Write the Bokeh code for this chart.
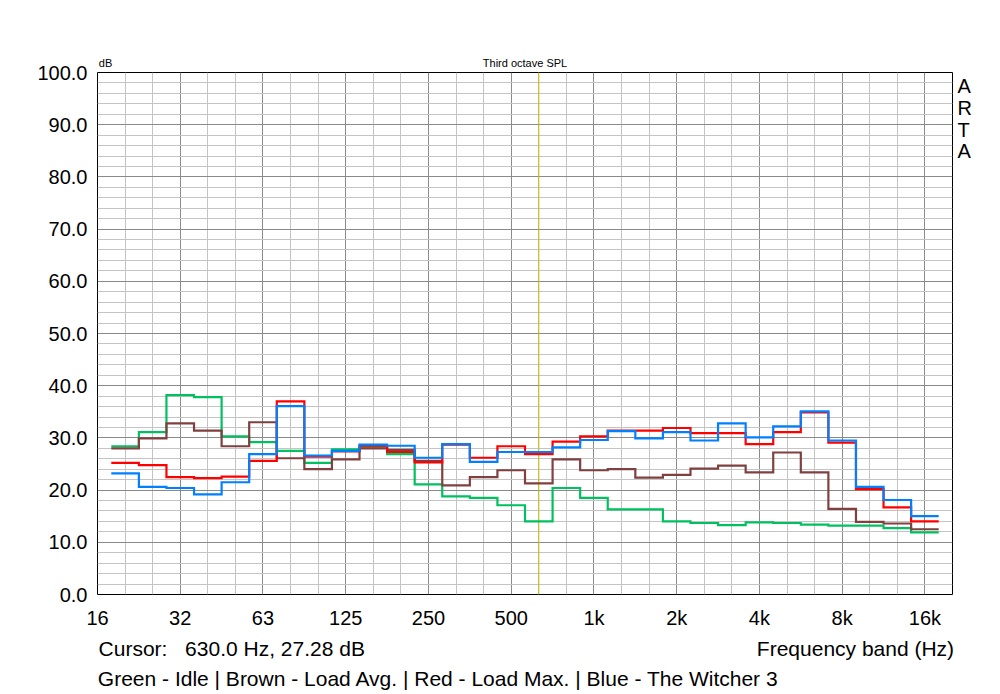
import numpy as np
from bokeh.plotting import figure
from bokeh.models import (FixedTicker, NumeralTickFormatter, Span, Range1d,
                          LinearAxis, LinearScale)
from bokeh.embed import file_html
from bokeh.resources import INLINE

# Third-octave band centres (Hz)
bands = [20, 25, 31.5, 40, 50, 63, 80, 100, 125, 160, 200, 250, 315, 400, 500,
         630, 800, 1000, 1250, 1600, 2000, 2500, 3150, 4000, 5000, 6300, 8000,
         10000, 12500, 16000]

# SPL values (dB) per band
idle = [28.4, 31.1, 38.2, 37.8, 30.3, 29.2, 27.5, 25.2, 27.8, 28.3,
        26.9, 21.1, 18.8, 18.5, 17.1, 14.0, 20.4, 18.5, 16.3, 16.3,
        14.0, 13.7, 13.3, 13.8, 13.7, 13.4, 13.2, 13.2, 12.7, 11.9]
load_avg = [28.0, 29.9, 32.8, 31.4, 28.4, 33.0, 26.1, 24.0, 25.9, 28.0,
            27.7, 25.6, 20.9, 22.5, 23.8, 21.3, 25.9, 23.8, 24.0, 22.4,
            22.9, 24.1, 24.7, 23.4, 27.2, 23.4, 16.4, 13.9, 13.6, 12.5]
load_max = [25.2, 24.8, 22.5, 22.3, 22.6, 25.6, 37.0, 26.4, 27.4, 28.5,
            27.3, 25.3, 28.7, 26.2, 28.4, 26.9, 29.3, 30.3, 31.4, 31.4,
            31.9, 30.9, 30.9, 28.8, 31.1, 34.9, 29.1, 20.2, 16.7, 14.0]
witcher = [23.2, 20.6, 20.4, 19.2, 21.5, 26.9, 36.1, 26.6, 27.5, 28.7,
           28.5, 26.2, 28.8, 25.4, 27.3, 27.3, 28.2, 29.6, 31.3, 29.9,
           31.1, 29.5, 32.8, 30.1, 32.2, 35.1, 29.5, 20.6, 18.1, 15.0]

# tick labels
x_tick_labels = ["16", "32", "63", "125", "250", "500", "1k", "2k", "4k", "8k", "16k"]
cursor_freq = 630.0
cursor_db = 27.28

FONT = "Liberation Sans"

# layout (pixels)
W, H = 1000, 694
LEFT, RIGHT, TOP, BOTTOM = 97, 48, 72, 100
FW, FH = W - LEFT - RIGHT, H - TOP - BOTTOM

# exact base-2 third-octave positions
k = np.round(3 * np.log2(np.array(bands, dtype=float) / 1000.0))
centers = 1000.0 * 2 ** (k / 3)
lo_edges = centers * 2 ** (-1 / 6)
xs = np.append(lo_edges, centers[-1] * 2 ** (1 / 6))

major_k = np.arange(-18, 13, 3)
major_x = [float(1000.0 * 2 ** (kk / 3)) for kk in major_k]
minor_x = [float(1000.0 * 2 ** (kk / 3)) for kk in range(-18, 14) if kk % 3 != 0]

p = figure(width=W, height=H, x_axis_type="log",
           x_range=Range1d(1000.0 * 2 ** -6, 1000.0 * 2 ** (13 / 3)),
           y_range=Range1d(0, 100),
           output_backend="svg", toolbar_location=None,
           min_border_left=LEFT, min_border_right=RIGHT,
           min_border_top=TOP, min_border_bottom=BOTTOM)

p.background_fill_color = "white"
p.border_fill_color = "white"
p.outline_line_color = "black"
p.outline_line_width = 1
p.outline_line_alpha = 1.0

# pixel-based extra ranges for the surrounding texts
p.extra_x_ranges = {"px": Range1d(0, FW)}
p.extra_x_scales = {"px": LinearScale()}
p.extra_y_ranges = {"px": Range1d(0, FH)}
p.extra_y_scales = {"px": LinearScale()}


def style_axis(ax, size, standoff):
    ax.axis_line_color = None
    ax.major_tick_line_color = None
    ax.minor_tick_line_color = None
    ax.major_tick_out = 0
    ax.major_tick_in = 0
    ax.minor_tick_out = 0
    ax.minor_tick_in = 0
    ax.major_label_text_font = FONT
    ax.major_label_text_font_size = size
    ax.major_label_text_color = "black"
    ax.major_label_standoff = standoff


# main axes
p.xaxis.ticker = FixedTicker(ticks=major_x, minor_ticks=minor_x)
p.xaxis.major_label_overrides = {t: lab for t, lab in zip(major_x, x_tick_labels)}
p.yaxis.ticker = FixedTicker(ticks=list(range(0, 101, 10)),
                             minor_ticks=[v for v in range(0, 101, 2) if v % 10 != 0])
p.yaxis.formatter = NumeralTickFormatter(format="0.0")
style_axis(p.xaxis[0], "20px", 12)
style_axis(p.yaxis[0], "20px", 10)

for g in (p.xgrid[0], p.ygrid[0]):
    g.grid_line_color = "#8a8a8a"
    g.grid_line_width = 1
    g.minor_grid_line_color = "#c4c4c4"
    g.minor_grid_line_width = 1


def text_axis(side, items, size, standoff):
    if side in ("above", "below"):
        ax = LinearAxis(x_range_name="px")
    else:
        ax = LinearAxis(y_range_name="px")
    ax.ticker = FixedTicker(ticks=[pos for pos, _ in items], minor_ticks=[])
    ax.major_label_overrides = {pos: txt for pos, txt in items}
    style_axis(ax, size, standoff)
    p.add_layout(ax, side)


# texts around the frame (positions in pixels from frame left / bottom)
text_axis("above", [(8, "dB"), (427.5, "Third octave SPL")], "11px", 4)
text_axis("right", [(509, "A"), (487, "R"), (465, "T"), (444, "A")], "20px", 5)
text_axis("below", [(35.5, "Cursor:"),
                    (177.5, "%.1f Hz, %.2f dB" % (cursor_freq, cursor_db)),
                    (758, "Frequency band (Hz)")], "21px", 5)
text_axis("below", [(341, "Green - Idle | Brown - Load Avg. | Red - Load Max. | Blue - The Witcher 3")],
          "21px", 4)

# cursor line
p.add_layout(Span(location=cursor_freq, dimension="height", line_color="#c8c000",
                  line_width=1, level="underlay"))

series = [(idle, "#00c060"), (load_avg, "#804040"), (load_max, "#ff0000"), (witcher, "#0080ff")]
for vals, col in series:
    ys = np.append(np.array(vals), vals[-1])
    p.step(xs, ys, mode="after", line_color=col, line_width=2.2, line_join="miter")

open("out.html", "w").write(file_html(p, INLINE))
